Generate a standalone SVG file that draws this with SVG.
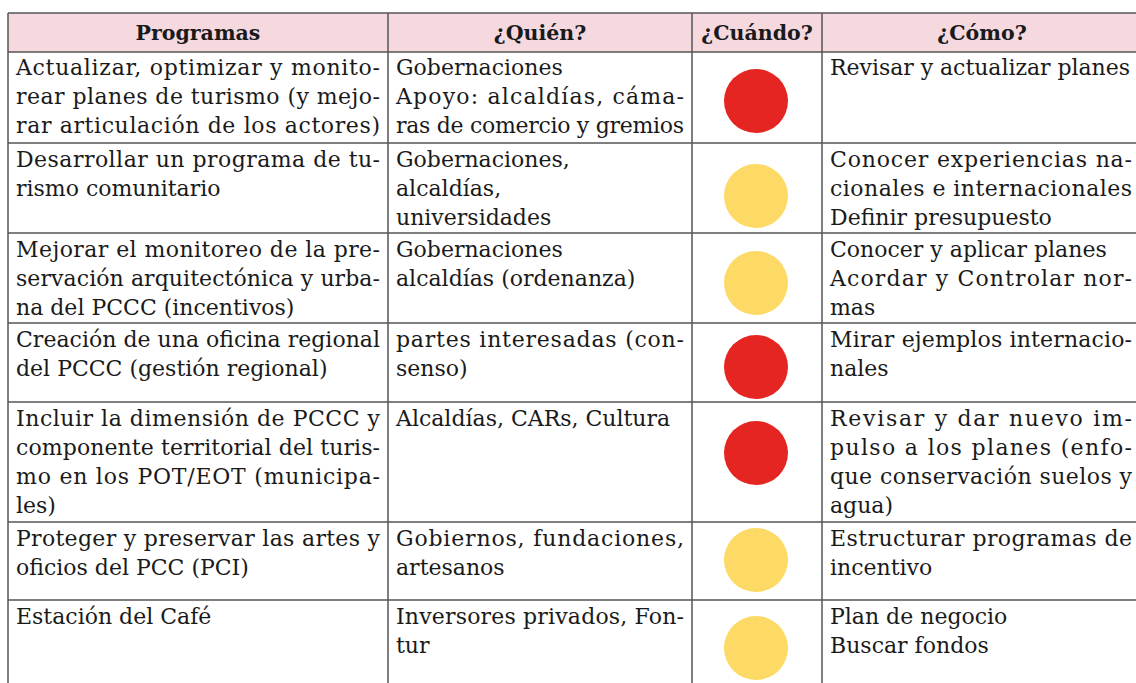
<svg xmlns="http://www.w3.org/2000/svg" width="1136" height="683" viewBox="0 0 1136 683">
<style>
.t{font-family:"DejaVu Serif","Liberation Serif",serif;font-size:22px;fill:#1a1a1a}
.h{font-family:"DejaVu Serif","Liberation Serif",serif;font-size:20.5px;font-weight:bold;fill:#1a1a1a;text-anchor:middle}
.ln{stroke:#555;stroke-width:1.5;fill:none}
.red{fill:#E52521}
.yel{fill:#FDD966}
</style>
<rect width="1136" height="683" fill="#fff"/>
<g id="header">
<rect x="8" y="13" width="1134" height="39" fill="#F5D9DF"/>
<text class="h" x="198" y="40">Programas</text>
<text class="h" x="540" y="40">¿Quién?</text>
<text class="h" x="757" y="40">¿Cuándo?</text>
<text class="h" x="982" y="40">¿Cómo?</text>
</g>
<g id="grid">
<path class="ln" d="M8 13H1142M8 52H1142M8 143H1142M8 233H1142M8 323H1142M8 402H1142M8 522H1142M8 600H1142"/>
<path class="ln" d="M8 13V683M388 13V683M692 13V683M822 13V683"/>
</g>
<g id="row1">
<text class="t" x="16" y="75" textLength="364" lengthAdjust="spacing">Actualizar, optimizar y monito-</text>
<text class="t" x="16" y="104" textLength="364" lengthAdjust="spacing">rear planes de turismo (y mejo-</text>
<text class="t" x="16" y="133" textLength="364" lengthAdjust="spacing">rar articulación de los actores)</text>
<text class="t" x="396" y="75">Gobernaciones</text>
<text class="t" x="396" y="104" textLength="288" lengthAdjust="spacing">Apoyo: alcaldías, cáma-</text>
<text class="t" x="396" y="133" textLength="288" lengthAdjust="spacing">ras de comercio y gremios</text>
<circle class="red" cx="756" cy="101" r="32"/>
<text class="t" x="830" y="75" textLength="300" lengthAdjust="spacing">Revisar y actualizar planes</text>
</g>
<g id="row2">
<text class="t" x="16" y="167" textLength="364" lengthAdjust="spacing">Desarrollar un programa de tu-</text>
<text class="t" x="16" y="196">rismo comunitario</text>
<text class="t" x="396" y="167">Gobernaciones,</text>
<text class="t" x="396" y="196">alcaldías,</text>
<text class="t" x="396" y="225">universidades</text>
<circle class="yel" cx="756" cy="196" r="32"/>
<text class="t" x="830" y="167" textLength="302" lengthAdjust="spacing">Conocer experiencias na-</text>
<text class="t" x="830" y="196" textLength="302" lengthAdjust="spacing">cionales e internacionales</text>
<text class="t" x="830" y="225">Definir presupuesto</text>
</g>
<g id="row3">
<text class="t" x="16" y="257" textLength="364" lengthAdjust="spacing">Mejorar el monitoreo de la pre-</text>
<text class="t" x="16" y="286" textLength="364" lengthAdjust="spacing">servación arquitectónica y urba-</text>
<text class="t" x="16" y="315">na del PCCC (incentivos)</text>
<text class="t" x="396" y="257">Gobernaciones</text>
<text class="t" x="396" y="286">alcaldías (ordenanza)</text>
<circle class="yel" cx="756" cy="283" r="32"/>
<text class="t" x="830" y="257">Conocer y aplicar planes</text>
<text class="t" x="830" y="286" textLength="302" lengthAdjust="spacing">Acordar y Controlar nor-</text>
<text class="t" x="830" y="315">mas</text>
</g>
<g id="row4">
<text class="t" x="16" y="347" textLength="364" lengthAdjust="spacing">Creación de una oficina regional</text>
<text class="t" x="16" y="376">del PCCC (gestión regional)</text>
<text class="t" x="396" y="347" textLength="288" lengthAdjust="spacing">partes interesadas (con-</text>
<text class="t" x="396" y="376">senso)</text>
<circle class="red" cx="756" cy="367" r="32"/>
<text class="t" x="830" y="347" textLength="302" lengthAdjust="spacing">Mirar ejemplos internacio-</text>
<text class="t" x="830" y="376">nales</text>
</g>
<g id="row5">
<text class="t" x="16" y="426" textLength="364" lengthAdjust="spacing">Incluir la dimensión de PCCC y</text>
<text class="t" x="16" y="455" textLength="364" lengthAdjust="spacing">componente territorial del turis-</text>
<text class="t" x="16" y="484" textLength="364" lengthAdjust="spacing">mo en los POT/EOT (municipa-</text>
<text class="t" x="16" y="513">les)</text>
<text class="t" x="396" y="426">Alcaldías, CARs, Cultura</text>
<circle class="red" cx="756" cy="453" r="32"/>
<text class="t" x="830" y="426" textLength="302" lengthAdjust="spacing">Revisar y dar nuevo im-</text>
<text class="t" x="830" y="455" textLength="302" lengthAdjust="spacing">pulso a los planes (enfo-</text>
<text class="t" x="830" y="484" textLength="302" lengthAdjust="spacing">que conservación suelos y</text>
<text class="t" x="830" y="513">agua)</text>
</g>
<g id="row6">
<text class="t" x="16" y="546" textLength="364" lengthAdjust="spacing">Proteger y preservar las artes y</text>
<text class="t" x="16" y="575">oficios del PCC (PCI)</text>
<text class="t" x="396" y="546" textLength="288" lengthAdjust="spacing">Gobiernos, fundaciones,</text>
<text class="t" x="396" y="575">artesanos</text>
<circle class="yel" cx="756" cy="560" r="32"/>
<text class="t" x="830" y="546" textLength="302" lengthAdjust="spacing">Estructurar programas de</text>
<text class="t" x="830" y="575">incentivo</text>
</g>
<g id="row7">
<text class="t" x="16" y="624">Estación del Café</text>
<text class="t" x="396" y="624" textLength="288" lengthAdjust="spacing">Inversores privados, Fon-</text>
<text class="t" x="396" y="653">tur</text>
<circle class="yel" cx="756" cy="648" r="32"/>
<text class="t" x="830" y="624">Plan de negocio</text>
<text class="t" x="830" y="653">Buscar fondos</text>
</g>
</svg>
